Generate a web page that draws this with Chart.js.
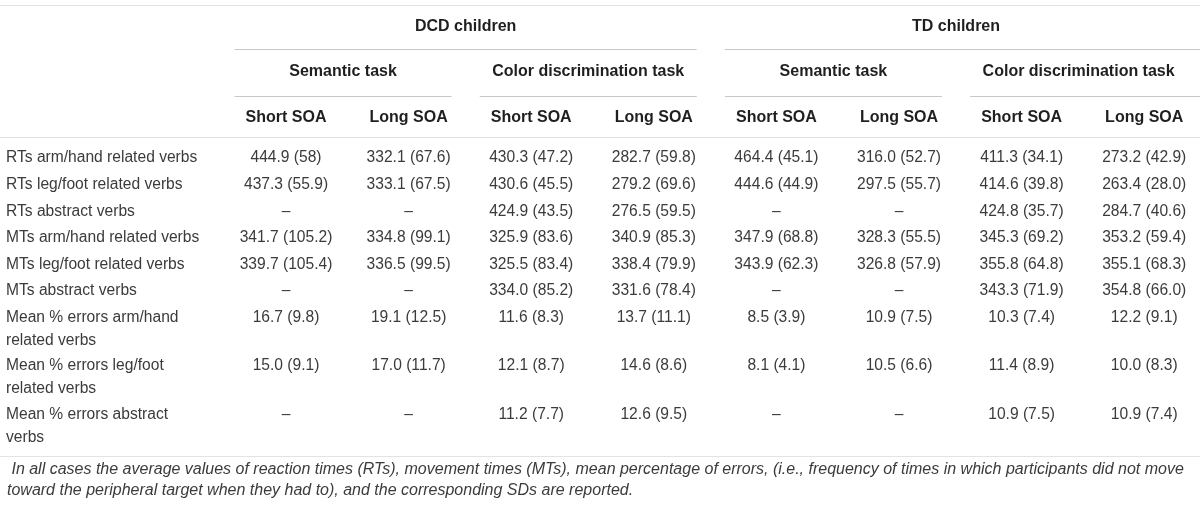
<!DOCTYPE html>
<html>
<head>
<meta charset="utf-8">
<script src="https://cdn.jsdelivr.net/npm/chart.js@4.4.1/dist/chart.umd.min.js"></script>
<style>
  html, body { margin: 0; padding: 0; background: #ffffff; }
  #wrap { width: 1200px; height: 510px; }
</style>
</head>
<body>
<div id="wrap"><canvas id="c" width="1200" height="510"></canvas></div>
<script>
// ---------- DATA ----------
const groups = ["DCD children", "TD children"];
const tasks = ["Semantic task", "Color discrimination task", "Semantic task", "Color discrimination task"];
const soaLabels = ["Short SOA", "Long SOA", "Short SOA", "Long SOA", "Short SOA", "Long SOA", "Short SOA", "Long SOA"];

const rowLabels = [
  ["RTs arm/hand related verbs"],
  ["RTs leg/foot related verbs"],
  ["RTs abstract verbs"],
  ["MTs arm/hand related verbs"],
  ["MTs leg/foot related verbs"],
  ["MTs abstract verbs"],
  ["Mean % errors arm/hand", "related verbs"],
  ["Mean % errors leg/foot", "related verbs"],
  ["Mean % errors abstract", "verbs"]
];

const dcdSemanticShort = ["444.9 (58)", "437.3 (55.9)", "–", "341.7 (105.2)", "339.7 (105.4)", "–", "16.7 (9.8)", "15.0 (9.1)", "–"];
const dcdSemanticLong  = ["332.1 (67.6)", "333.1 (67.5)", "–", "334.8 (99.1)", "336.5 (99.5)", "–", "19.1 (12.5)", "17.0 (11.7)", "–"];
const dcdColorShort    = ["430.3 (47.2)", "430.6 (45.5)", "424.9 (43.5)", "325.9 (83.6)", "325.5 (83.4)", "334.0 (85.2)", "11.6 (8.3)", "12.1 (8.7)", "11.2 (7.7)"];
const dcdColorLong     = ["282.7 (59.8)", "279.2 (69.6)", "276.5 (59.5)", "340.9 (85.3)", "338.4 (79.9)", "331.6 (78.4)", "13.7 (11.1)", "14.6 (8.6)", "12.6 (9.5)"];
const tdSemanticShort  = ["464.4 (45.1)", "444.6 (44.9)", "–", "347.9 (68.8)", "343.9 (62.3)", "–", "8.5 (3.9)", "8.1 (4.1)", "–"];
const tdSemanticLong   = ["316.0 (52.7)", "297.5 (55.7)", "–", "328.3 (55.5)", "326.8 (57.9)", "–", "10.9 (7.5)", "10.5 (6.6)", "–"];
const tdColorShort     = ["411.3 (34.1)", "414.6 (39.8)", "424.8 (35.7)", "345.3 (69.2)", "355.8 (64.8)", "343.3 (71.9)", "10.3 (7.4)", "11.4 (8.9)", "10.9 (7.5)"];
const tdColorLong      = ["273.2 (42.9)", "263.4 (28.0)", "284.7 (40.6)", "353.2 (59.4)", "355.1 (68.3)", "354.8 (66.0)", "12.2 (9.1)", "10.0 (8.3)", "10.9 (7.4)"];

const footnote = [
  " In all cases the average values of reaction times (RTs), movement times (MTs), mean percentage of errors, (i.e., frequency of times in which participants did not move",
  "toward the peripheral target when they had to), and the corresponding SDs are reported."
];

// ---------- LAYOUT (in scale units) ----------
const columns = [dcdSemanticShort, dcdSemanticLong, dcdColorShort, dcdColorLong,
                 tdSemanticShort, tdSemanticLong, tdColorShort, tdColorLong];
const X_MIN = -2.333, X_MAX = 7.455;      // column-index units
const Y_MIN = -5.94,  Y_MAX = 13.233;     // row units
const LABEL_X = -2.284;
const FOOT_X = -2.276;
const SPAN_L = 0.42, SPAN_R = 0.35;
const LINE2 = 0.86, TWO_LINE_ROW = 1.82;

// row positions derived from number of text lines
const rowY = [];
(function () {
  let y = 0;
  rowLabels.forEach(l => { rowY.push(y); y += (l.length > 1 ? TWO_LINE_ROW : 1.0); });
})();

const Y_GROUP = -4.925, Y_TASK = -3.233, Y_SOA = -1.504;
const Y_TOP_RULE = -5.75, Y_GROUP_RULE = -4.098, Y_TASK_RULE = -2.33, Y_HEAD_RULE = -0.79, Y_BOTTOM_RULE = 11.20;
const Y_FOOT = [11.73, 12.52];

const FONT = "'Liberation Sans', Arial, sans-serif";
const TEXT = "#3b3b3b", BOLD = "#1f1f1f", RULE = "#c8c8c8", RULE_LIGHT = "#e3e3e3";

const datasets = columns.map((col, ci) => ({
  label: soaLabels[ci],
  data: col.map((v, ri) => ({ x: ci, y: rowY[ri] })),
  pointRadius: 0, pointHoverRadius: 0, showLine: false
}));
datasets.push({
  label: "rows",
  data: rowLabels.map((l, ri) => ({ x: LABEL_X, y: rowY[ri] })),
  pointRadius: 0, pointHoverRadius: 0, showLine: false
});

const tablePlugin = {
  id: "tablePlugin",
  afterDatasetsDraw(chart) {
    const ctx = chart.ctx;
    const xs = chart.scales.x, ys = chart.scales.y;
    const px = v => xs.getPixelForValue(v);
    const py = v => ys.getPixelForValue(v);
    ctx.save();

    function rule(x0, x1, y, color) {
      ctx.strokeStyle = color; ctx.lineWidth = 1.2;
      const yy = Math.round(py(y)) + 0.5;
      ctx.beginPath(); ctx.moveTo(px(x0), yy); ctx.lineTo(px(x1), yy); ctx.stroke();
    }
    // rules
    rule(X_MIN, X_MAX, Y_TOP_RULE, RULE_LIGHT);
    rule(X_MIN, X_MAX, Y_HEAD_RULE, RULE_LIGHT);
    rule(X_MIN, X_MAX, Y_BOTTOM_RULE, RULE_LIGHT);

    ctx.fillStyle = BOLD; ctx.font = "bold 16px " + FONT;
    ctx.textAlign = "center"; ctx.textBaseline = "middle";
    groups.forEach((g, gi) => {
      const a = gi * 4, b = gi * 4 + 3;
      const x0 = a - SPAN_L, x1 = b + SPAN_R;
      rule(x0, gi === groups.length - 1 ? X_MAX : x1, Y_GROUP_RULE, RULE);
      ctx.fillText(g, px((x0 + x1) / 2), py(Y_GROUP));
    });
    tasks.forEach((t, ti) => {
      const a = ti * 2, b = ti * 2 + 1;
      const x0 = a - SPAN_L, x1 = b + SPAN_R;
      rule(x0, ti === tasks.length - 1 ? X_MAX : x1, Y_TASK_RULE, RULE);
      ctx.fillText(t, px((x0 + x1) / 2), py(Y_TASK));
    });
    soaLabels.forEach((s, ci) => {
      ctx.fillText(s, px(ci), py(Y_SOA));
    });

    // cells
    ctx.font = "15.6px " + FONT; ctx.fillStyle = TEXT; ctx.textBaseline = "middle";
    chart.data.datasets.forEach((ds, di) => {
      const meta = chart.getDatasetMeta(di);
      meta.data.forEach((pt, ri) => {
        if (di < columns.length) {
          ctx.textAlign = "center";
          ctx.fillText(columns[di][ri], pt.x, pt.y);
        } else {
          ctx.textAlign = "left";
          rowLabels[ri].forEach((ln, li) => {
            ctx.fillText(ln, pt.x, py(rowY[ri] + li * LINE2));
          });
        }
      });
    });

    // footnote
    ctx.font = "italic 16px " + FONT; ctx.fillStyle = TEXT; ctx.textAlign = "left";
    footnote.forEach((ln, i) => ctx.fillText(ln, px(FOOT_X), py(Y_FOOT[i])));
    ctx.restore();
  }
};

new Chart(document.getElementById("c"), {
  type: "scatter",
  data: { datasets },
  options: {
    responsive: false,
    animation: false,
    events: [],
    layout: { padding: 0 },
    plugins: { legend: { display: false }, tooltip: { enabled: false }, title: { display: false } },
    scales: {
      x: { type: "linear", min: X_MIN, max: X_MAX, display: false },
      y: { type: "linear", min: Y_MIN, max: Y_MAX, reverse: true, display: false }
    }
  },
  plugins: [tablePlugin]
});
</script>
</body>
</html>
